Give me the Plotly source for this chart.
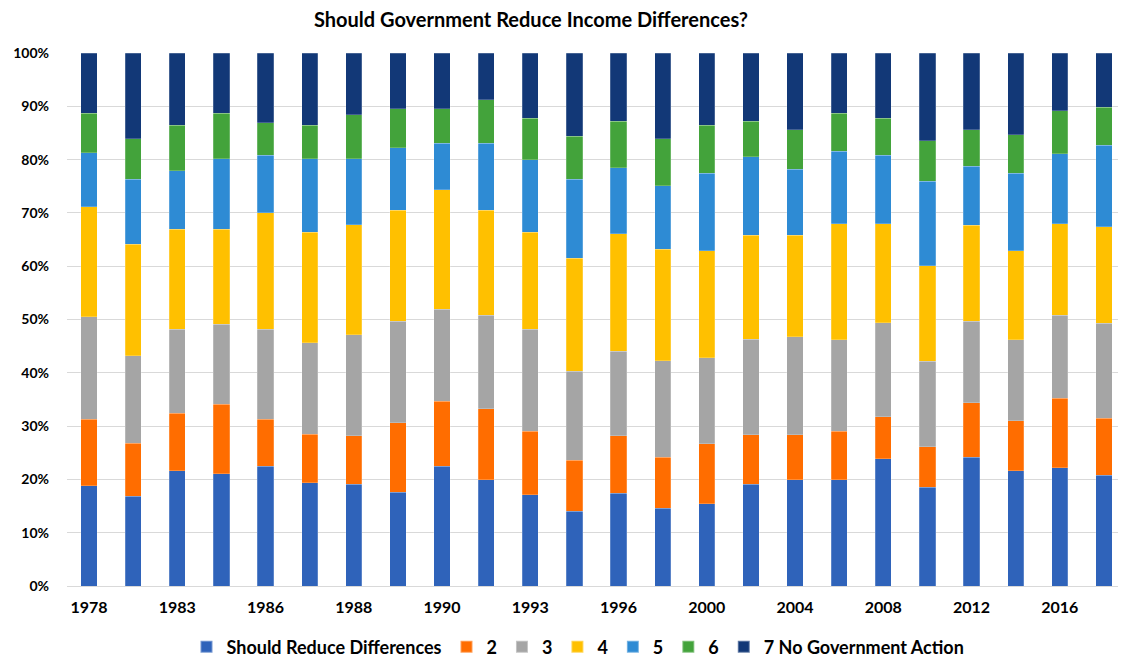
import plotly.graph_objects as go

years = ["1978", "1980", "1983", "1984", "1986", "1987", "1988", "1989", "1990", "1991",
         "1993", "1994", "1996", "1998", "2000", "2002", "2004", "2006", "2008", "2010",
         "2012", "2014", "2016", "2018"]

s1 = [18.8, 16.8, 21.6, 21.1, 22.5, 19.4, 19.1, 17.6, 22.5, 19.9, 17.1, 14.0,
      17.4, 14.6, 15.4, 19.1, 19.9, 19.9, 23.9, 18.5, 24.2, 21.6, 22.2, 20.8]
s2 = [12.5, 10.0, 10.8, 13.0, 8.8, 9.1, 9.1, 13.0, 12.2, 13.4, 11.9, 9.6,
      10.8, 9.6, 11.3, 9.3, 8.5, 9.1, 7.9, 7.6, 10.2, 9.4, 13.0, 10.7]
s3 = [19.2, 16.4, 15.8, 15.0, 16.9, 17.1, 18.9, 19.1, 17.2, 17.5, 19.2, 16.7,
      15.8, 18.1, 16.1, 17.9, 18.4, 17.2, 17.6, 16.1, 15.3, 15.2, 15.6, 17.8]
s4 = [20.7, 20.9, 18.7, 17.8, 21.8, 20.8, 20.7, 20.8, 22.4, 19.7, 18.2, 21.2,
      22.1, 20.9, 20.1, 19.5, 19.0, 21.8, 18.6, 17.9, 18.0, 16.7, 17.2, 18.1]
s5 = [10.1, 12.2, 11.0, 13.3, 10.8, 13.8, 12.4, 11.7, 8.8, 12.6, 13.6, 14.8,
      12.4, 11.9, 14.5, 14.7, 12.4, 13.6, 12.8, 15.8, 11.1, 14.5, 13.1, 15.3]
s6 = [7.4, 7.6, 8.5, 8.5, 6.1, 6.2, 8.2, 7.3, 6.4, 8.1, 7.8, 8.1,
      8.7, 8.8, 9.0, 6.7, 7.4, 7.1, 7.0, 7.6, 6.8, 7.3, 8.1, 7.1]
s7 = [11.3, 16.1, 13.6, 11.3, 13.1, 13.6, 11.6, 10.5, 10.5, 8.8, 12.2, 15.6,
      12.8, 16.1, 13.6, 12.8, 14.4, 11.3, 12.2, 16.5, 14.4, 15.3, 10.8, 10.2]

series_names = ["Should Reduce Differences", "2", "3", "4", "5", "6", "7 No Government Action"]
series_values = [s1, s2, s3, s4, s5, s6, s7]
colors = ["#2F63BA", "#FF6D00", "#A5A5A5", "#FFC000", "#2E8BD4", "#43A33B", "#123877"]

tick_years = ["1978", "1983", "1986", "1988", "1990", "1993", "1996", "2000",
              "2004", "2008", "2012", "2016"]

font_family = "Lato, 'Open Sans', sans-serif"

# the page body adds an 8px margin, so the figure is sized to fit the window
W, H = 1118, 651

fig = go.Figure()
for name, vals, col in zip(series_names, series_values, colors):
    fig.add_trace(go.Bar(
        x=years, y=vals, name=name,
        marker=dict(color=col, line=dict(color="rgba(255,255,255,0.35)", width=0.6)),
    ))

fig.update_layout(
    barmode="stack",
    barnorm="percent",
    bargap=0.63,
    width=W, height=H,
    paper_bgcolor="white", plot_bgcolor="white",
    margin=dict(l=59, r=0, t=45, b=73),
    title=dict(text="Should Government Reduce Income Differences?",
               x=523 / W, xanchor="center", xref="container",
               y=1 - 12 / H, yanchor="middle", yref="container",
               font=dict(family=font_family, size=20, color="#000000", weight="bold")),
    font=dict(family=font_family, color="#000000"),
    legend=dict(orientation="h", xref="container", yref="container",
                x=570 / W, xanchor="center", y=1 - 639 / H, yanchor="middle",
                font=dict(size=18, family=font_family, color="#000000", weight="bold"),
                traceorder="normal", itemwidth=30, itemsizing="constant",
                tracegroupgap=0),
    showlegend=True,
)

fig.update_xaxes(
    type="category", categoryorder="array", categoryarray=years,
    tickmode="array", tickvals=tick_years, ticktext=tick_years,
    tickfont=dict(size=16, family=font_family, color="#000000", weight="bold"),
    showgrid=False, showline=False, ticks="", ticklabelstandoff=10,
)

fig.update_yaxes(
    range=[0, 100], tickmode="array",
    tickvals=list(range(0, 101, 10)),
    ticktext=["%d%%" % v for v in range(0, 101, 10)],
    tickfont=dict(size=14, family=font_family, color="#000000", weight="bold"),
    showgrid=True, gridcolor="#D9D9D9", gridwidth=1.2,
    zeroline=True, zerolinecolor="#D9D9D9", zerolinewidth=1.2,
    showline=False, ticks="", ticklabelstandoff=17,
)

fig.write_html("out.html")
